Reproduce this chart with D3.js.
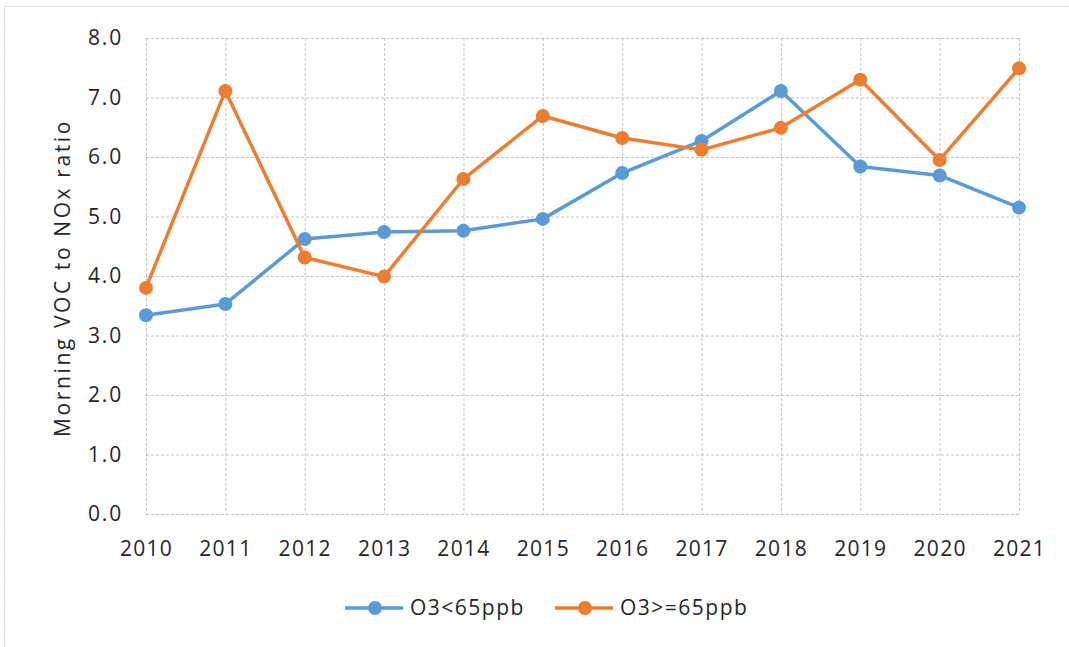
<!DOCTYPE html>
<html>
<head>
<meta charset="utf-8">
<script src="https://cdn.jsdelivr.net/npm/d3@7.9.0/dist/d3.min.js"></script>
<style>
  body { margin: 0; background: #fff; }
  svg { display: block; font-family: 'Open Sans', 'Noto Sans', sans-serif; }
</style>
</head>
<body>
<svg id="chart" width="1069" height="647"></svg>
<script>
const years = [2010, 2011, 2012, 2013, 2014, 2015, 2016, 2017, 2018, 2019, 2020, 2021];
const lowO3 = [3.34, 3.53, 4.62, 4.74, 4.76, 4.96, 5.73, 6.27, 7.11, 5.84, 5.69, 5.15];
const highO3 = [3.80, 7.11, 4.31, 3.99, 5.63, 6.69, 6.32, 6.12, 6.49, 7.30, 5.95, 7.49];
const yTicks = [0, 1, 2, 3, 4, 5, 6, 7, 8];
const seriesNames = ['O3<65ppb', 'O3>=65ppb'];
const seriesColors = ['#5b9bd5', '#ed7d31'];

const series = [lowO3, highO3];

const svg = d3.select('#chart');
const textColor = '#262626';

// outer chart border (only top/left edges visible in frame)
svg.append('rect')
  .attr('x', 4.5).attr('y', 6.5)
  .attr('width', 1100).attr('height', 700)
  .attr('fill', 'none')
  .attr('stroke', '#d0d0d0')
  .attr('stroke-dasharray', '2,1');

const plotL = 146, plotR = 1019, plotT = 38, plotB = 514;

let x = d3.scalePoint().domain(years).range([plotL, plotR]);
let y = d3.scaleLinear().domain([0, 8]).range([plotB, plotT]);

const grid = svg.append('g');
yTicks.forEach((t) => {
  grid.append('line')
    .attr('x1', plotL).attr('x2', plotR)
    .attr('y1', y(t) + 0.5).attr('y2', y(t) + 0.5)
    .attr('stroke', '#c4c4c4')
    .attr('stroke-dasharray', '3,2');
});
years.forEach((yr) => {
  grid.append('line')
    .attr('x1', x(yr) + 0.5).attr('x2', x(yr) + 0.5)
    .attr('y1', plotT).attr('y2', plotB)
    .attr('stroke', '#c4c4c4')
    .attr('stroke-dasharray', '3,2');
});

// y tick labels
let yAxis = d3.axisLeft(y).tickValues(yTicks).tickFormat(d3.format('.1f')).tickSize(0).tickPadding(23);
let gy = svg.append('g').attr('transform', `translate(${plotL},0)`).call(yAxis);
gy.select('.domain').remove();
gy.selectAll('text').attr('font-size', 21).attr('fill', textColor)
  .attr('letter-spacing', 1.8)
  .attr('font-family', "'Open Sans', sans-serif");

// x tick labels
let xAxis = d3.axisBottom(x).tickSize(0).tickPadding(27);
let gx = svg.append('g').attr('transform', `translate(0,${plotB})`).call(xAxis);
gx.select('.domain').remove();
gx.selectAll('text').attr('font-size', 21).attr('fill', textColor)
  .attr('letter-spacing', 1.3)
  .attr('font-family', "'Open Sans', sans-serif");

// y axis title
svg.append('text')
  .attr('transform', 'translate(70,278) rotate(-90)')
  .attr('text-anchor', 'middle')
  .attr('font-size', 21)
  .attr('letter-spacing', 2.6)
  .attr('fill', textColor)
  .text('Morning VOC to NOx ratio');

let line = d3.line()
  .x((d, i) => x(years[i]))
  .y((d) => y(d));

series.forEach((vals, s) => {
  svg.append('path')
    .attr('d', line(vals))
    .attr('fill', 'none')
    .attr('stroke', seriesColors[s])
    .attr('stroke-width', 3.5)
    .attr('stroke-linejoin', 'round');
  svg.append('g').selectAll('circle')
    .data(vals)
    .join('circle')
    .attr('cx', (d, i) => x(years[i]))
    .attr('cy', (d) => y(d))
    .attr('r', 7)
    .attr('fill', seriesColors[s]);
});

// legend
const legendY = 608;
const legendX = [345, 555];
seriesNames.forEach((name, s) => {
  let g = svg.append('g').attr('transform', `translate(${legendX[s]},${legendY})`);
  g.append('line')
    .attr('x1', 0).attr('x2', 58)
    .attr('stroke', seriesColors[s])
    .attr('stroke-width', 3.5);
  g.append('circle').attr('cx', 30).attr('r', 7).attr('fill', seriesColors[s]);
  g.append('text')
    .attr('x', 65).attr('y', 7)
    .attr('font-size', 21)
    .attr('letter-spacing', 1.5)
    .attr('fill', textColor)
    .text(name);
});
</script>
</body>
</html>
